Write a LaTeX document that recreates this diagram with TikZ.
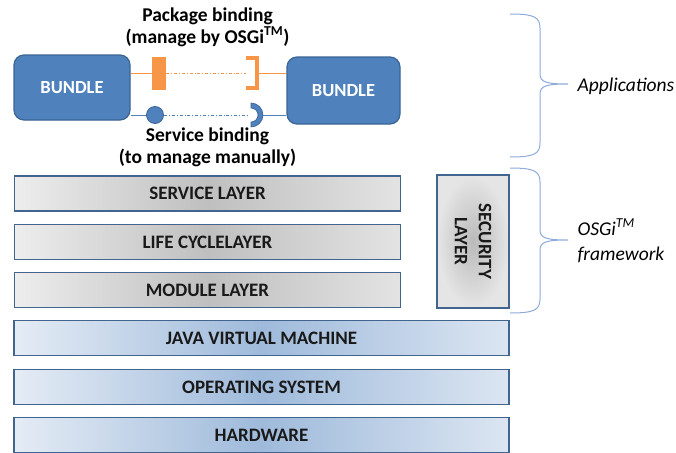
\documentclass[tikz,border=0pt]{standalone}
\usepackage{fontspec}
\setmainfont{Carlito}
\usetikzlibrary{positioning,calc}

\definecolor{bndfill}{HTML}{4F81BD}
\definecolor{bnddraw}{HTML}{3A6494}
\definecolor{pkgorange}{HTML}{F79646}
\definecolor{layedge}{HTML}{41658F}
\definecolor{bracecol}{HTML}{8EAADB}

\begin{document}
\begin{tikzpicture}[x=1pt,y=-1pt,
    bnd/.style={rectangle, rounded corners=10pt, fill=bndfill, draw=bnddraw,
                line width=1.2pt, text=white, font=\fontsize{18.5}{20}\selectfont\bfseries},
    lay/.style={rectangle, draw=layedge, line width=1.5pt, minimum height=35pt,
                font=\fontsize{19}{21}\selectfont\bfseries, text=black!90},
    grey/.style={lay, left color=black!7, right color=black!11, middle color=black!25},
    blu/.style={lay, left color=bndfill!15, right color=bndfill!20, middle color=bndfill!55},
    lbl/.style={align=center, font=\fontsize{19.5}{22}\selectfont\bfseries},
    brc/.style={draw=bracecol, line width=1pt},
    side/.style={anchor=west, align=left, font=\fontsize{19.5}{25}\selectfont\itshape}
]
\useasboundingbox (0,0) rectangle (676,452);

% bundles and bindings
\node[bnd, minimum width=116pt, minimum height=65pt] (bundle_l) at (72,87.5) {BUNDLE};
\node[bnd, minimum width=113pt, minimum height=67pt] (bundle_r) at (343.5,90.5) {BUNDLE};

\node[fill=pkgorange, inner sep=0pt, minimum width=14pt, minimum height=33pt] (pkg_l) at (159,73) {};
\node[inner sep=0pt, minimum width=11pt, minimum height=29pt] (pkg_r) at (251.5,73) {};
\draw[pkgorange, line width=4pt] (pkg_r.north west) -- (pkg_r.north east)
    -- (pkg_r.south east) -- (pkg_r.south west);

\node[circle, fill=bndfill, draw=bnddraw, line width=0.8pt, inner sep=0pt, minimum size=17pt] (srv_l) at (155,115) {};
\coordinate (srv_r) at (251,115);
\fill[bndfill, draw=bnddraw, line width=0.6pt] ($(srv_r)+(0,-12)$) arc(-90:90:12)
    -- ++(0,-5) arc(90:-90:7) -- cycle;

\draw[pkgorange, line width=0.8pt] (bundle_l.east |- pkg_l) -- (pkg_l.west);
\draw[pkgorange, line width=0.8pt, dash dot] (pkg_l.east) -- (pkg_r.west);
\draw[pkgorange, line width=0.8pt] (pkg_r.east) -- (bundle_r.west |- pkg_r);
\draw[bndfill, line width=0.8pt] (bundle_l.east |- srv_l) -- (srv_l.west);
\draw[bndfill, line width=0.8pt, dash dot] (srv_l.east) -- ([xshift=-3pt]srv_r);
\draw[bndfill, line width=0.8pt] ([xshift=12pt]srv_r) -- (bundle_r.west |- srv_r);

\node[lbl] (pkg_txt) at (207.5,27) {Package binding\\(manage by OSGi\textsuperscript{TM})};
\node[lbl] (srv_txt) at (207.5,147.5) {Service binding\\(to manage manually)};

% framework layers
\node[grey, minimum width=386pt] (service) at (207.5,193.5) {SERVICE LAYER};
\node[grey, minimum width=386pt] (lifecycle) at (207.5,242) {LIFE CYCLELAYER};
\node[grey, minimum width=386pt] (module) at (207.5,290) {MODULE LAYER};
\node[lay, shading=radial, inner color=black!27, outer color=black!10,
      minimum width=72pt, minimum height=133pt] (security) at (473,241.5) {};
\node[rotate=-90, align=center, font=\fontsize{19}{24}\selectfont\bfseries, text=black!90]
    (security_txt) at (security.center) {SECURITY\\LAYER};

\node[blu, minimum width=495pt] (jvm) at (261.5,338) {JAVA VIRTUAL MACHINE};
\node[blu, minimum width=495pt] (os) at (261.5,387) {OPERATING SYSTEM};
\node[blu, minimum width=495pt] (hw) at (261.5,435) {HARDWARE};

% braces
\coordinate (app_top) at (510,14);
\coordinate (app_tip) at (568,84);
\coordinate (app_bot) at (510,157);
\coordinate (fw_top) at (510,168);
\coordinate (fw_tip) at (568,240);
\coordinate (fw_bot) at (510,313);
\draw[brc] (app_top) .. controls (534,14) and (540,17) .. (540,28) -- (540,74)
    .. controls (540,82) and (546,84) .. (app_tip)
    .. controls (546,84) and (540,86) .. (540,94) -- (540,143)
    .. controls (540,154) and (534,157) .. (app_bot);
\draw[brc] (fw_top) .. controls (534,168) and (540,171) .. (540,182) -- (540,230)
    .. controls (540,238) and (546,240) .. (fw_tip)
    .. controls (546,240) and (540,242) .. (540,250) -- (540,299)
    .. controls (540,310) and (534,313) .. (fw_bot);
\node[side] (apps) at (574,86) {Applications};
\node[side] (fw) at (574,241) {OSGi\textsuperscript{TM}\\framework};
\end{tikzpicture}
\end{document}
